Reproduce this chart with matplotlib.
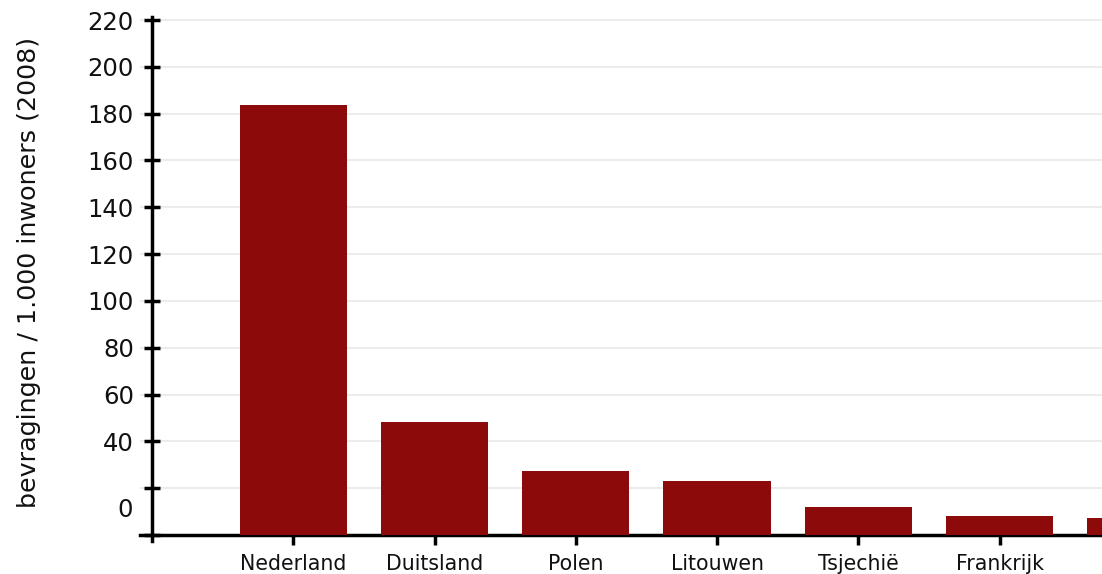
import matplotlib
matplotlib.use("Agg")
import matplotlib.pyplot as plt
import matplotlib.transforms as mtransforms

categories = ["Nederland", "Duitsland", "Polen", "Litouwen", "Tsjechië", "Frankrijk", ""]
values = [183.7, 48.3, 27.3, 23.2, 12.1, 8.1, 7.1]
yticks = [0, 20, 40, 60, 80, 100, 120, 140, 160, 180, 200, 220]
ytick_labels = ["", "", "40", "60", "80", "100", "120", "140", "160", "180", "200", "220"]
ylabel = "bevragingen / 1.000 inwoners (2008)"

plt.rcParams['font.family'] = ['DejaVu Sans']

fig = plt.figure(figsize=(11.02, 5.74), dpi=100)
W, H = 1102, 574
ax = fig.add_axes([140 / W, (574 - 541) / H, 1 - 140 / W, (541 - 17) / H])

x = list(range(len(values)))
ax.bar(x, values, width=0.76, color="#8c0a0a", zorder=3)

ax.set_yticks(yticks)
ax.set_yticklabels(ytick_labels)
ax.set_xticks(x[:-1])
ax.set_xticklabels(categories[:-1])

ax.set_xlim(-1.085, 5.725)
ax.set_ylim(-2.56, 221.3)

ax.grid(axis='y', color='#ececec', linewidth=1.5, zorder=0)
ax.set_axisbelow(True)

for s in ['top', 'right']:
    ax.spines[s].set_visible(False)
ax.spines['left'].set_position(('data', -1))
ax.spines['bottom'].set_position(('data', 0))
ax.spines['left'].set_linewidth(2.5)
ax.spines['bottom'].set_linewidth(2.5)

ax.tick_params(axis='y', direction='inout', length=12, width=2.5, pad=7,
               labelcolor='#111111', labelsize=17.5)
ax.tick_params(axis='x', direction='inout', length=14, width=2.5, pad=7,
               labelcolor='#111111', labelsize=14.8)

# misplaced "0" label as in reference
trans = mtransforms.offset_copy(ax.transData, fig=fig, x=-19, y=0, units='dots')
ax.text(-1, 10.7, "0", transform=trans, ha='right', va='center', fontsize=17.5, color='#111111')

fig.text(29 / W, (574 - 272) / H, ylabel, rotation=90, ha='center', va='center',
         fontsize=18.3, color='#111111')

fig.savefig("out.png", dpi=100)
